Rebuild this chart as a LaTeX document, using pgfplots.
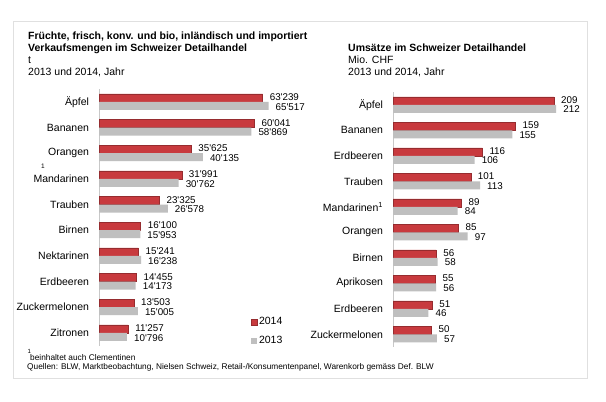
\documentclass[border=0pt]{standalone}
\usepackage{fontspec}
\setmainfont{Liberation Sans}
\usepackage{pgfplots}
\usepackage{pgfplotstable}
\pgfplotsset{compat=1.18}

\definecolor{rot}{HTML}{C83A3E}
\definecolor{grau}{HTML}{BFBFBF}
\definecolor{rahmen}{HTML}{E0E0E0}
\definecolor{achse}{HTML}{C8C8C8}

\newcommand{\txt}{\fontsize{10.5}{12}\selectfont}
\newcommand{\lbl}{\fontsize{9.8}{11}\selectfont}
\newcommand{\fuss}{\fontsize{8.3}{9}\selectfont}

% Verkaufsmengen in t
\pgfplotstableread{
idx m2014 m2013
0 63239 65517
1 60041 58869
2 35625 40135
3 31991 30762
4 23325 26578
5 16100 15953
6 15241 16238
7 14455 14173
8 13503 15005
9 11257 10796
}\mengen

% Umsaetze in Mio. CHF
\pgfplotstableread{
idx u2014 u2013
0 209 212
1 159 155
2 116 106
3 101 113
4 89 84
5 85 97
6 56 58
7 55 56
8 51 46
9 50 57
}\umsatz

\pgfplotsset{
  balken/.style={
    scale only axis,
    xbar, bar width=8pt,
    xmin=0,
    ymin=-0.5, ymax=9.5, y dir=reverse,
    ytick={0,...,9},
    axis x line=none,
    axis y line*=left,
    y axis line style={draw=achse, line width=0.8pt},
    major tick length=0pt,
    yticklabel style={font=\txt, xshift=-6.5pt},
    point meta=x,
    nodes near coords,
    nodes near coords style={font=\lbl, anchor=west, inner sep=0pt, xshift=7pt},
    /pgf/number format/.cd, fixed, precision=0, assume math mode=true,
    1000 sep={\textquotesingle}, min exponent for 1000 sep=4,
  },
  rotbalken/.style={fill=rot, draw=rot!75!black, line width=0.4pt, bar shift=4pt,
    nodes near coords style={yshift=0.8pt}},
  graubalken/.style={fill=grau, draw=none, bar shift=-4pt,
    nodes near coords style={yshift=-0.8pt}},
}

\begin{document}
\begin{tikzpicture}
\fill[white] (0pt,0pt) rectangle (606pt,402pt);
\draw[rahmen, line width=1pt] (13.5pt,23pt) rectangle (587.5pt,380pt);

% Titel links
\node[anchor=base west, inner sep=0pt, font=\txt\bfseries] at (28pt,362pt) {Früchte, frisch, konv. und bio, inländisch und importiert};
\node[anchor=base west, inner sep=0pt, font=\txt\bfseries] at (28pt,350pt) {Verkaufsmengen im Schweizer Detailhandel};
\node[anchor=base west, inner sep=0pt, font=\txt] at (28pt,338.5pt) {t};
\node[anchor=base west, inner sep=0pt, font=\txt] at (28pt,326pt) {2013 und 2014, Jahr};

% Titel rechts
\node[anchor=base west, inner sep=0pt, font=\txt\bfseries] at (348pt,350pt) {Umsätze im Schweizer Detailhandel};
\node[anchor=base west, inner sep=0pt, font=\txt] at (348pt,338.5pt) {Mio. CHF};
\node[anchor=base west, inner sep=0pt, font=\txt] at (348pt,326pt) {2013 und 2014, Jahr};

\begin{axis}[balken,
  at={(99pt,313pt)}, anchor=north west,
  width=207pt, height=256.7pt,
  xmax=80000,
  yticklabels={Äpfel,Bananen,Orangen,Mandarinen,Trauben,Birnen,Nektarinen,Erdbeeren,Zuckermelonen,Zitronen},
  legend style={draw=none, fill=none, at={(rel axis cs:0.734,0.118)}, anchor=north west,
    inner sep=0pt, row sep=6pt, font=\txt, cells={anchor=west}},
  legend image code/.code={\fill[#1] (0pt,-2.8pt) rectangle (5.5pt,2.8pt);},
]
\addplot[rotbalken] table[x=m2014, y=idx] {\mengen};
\addplot[graubalken] table[x=m2013, y=idx] {\mengen};
\legend{2014,2013}
\end{axis}

\begin{axis}[balken,
  at={(393pt,310pt)}, anchor=north west,
  width=192.5pt, height=255pt,
  xmax=250,
  yticklabels={Äpfel,Bananen,Erdbeeren,Trauben,Mandarinen\textsuperscript{1},Orangen,Birnen,Aprikosen,Erdbeeren,Zuckermelonen},
]
\addplot[rotbalken] table[x=u2014, y=idx] {\umsatz};
\addplot[graubalken] table[x=u2013, y=idx] {\umsatz};
\end{axis}

% Fussnotenzeichen bei Mandarinen links
\node[inner sep=0pt, font=\fontsize{6.5}{7}\selectfont] at (43pt,236pt) {1};

% Fussnoten
\node[anchor=base west, inner sep=0pt, font=\fontsize{6}{7}\selectfont] at (27.5pt,48pt) {1};
\node[anchor=base west, inner sep=0pt, font=\fuss] at (30pt,41pt) {beinhaltet auch Clementinen};
\node[anchor=base west, inner sep=0pt, font=\fuss] at (27pt,32.5pt) {Quellen: BLW, Marktbeobachtung, Nielsen Schweiz, Retail-/Konsumentenpanel, Warenkorb gemäss Def. BLW};
\end{tikzpicture}
\end{document}
